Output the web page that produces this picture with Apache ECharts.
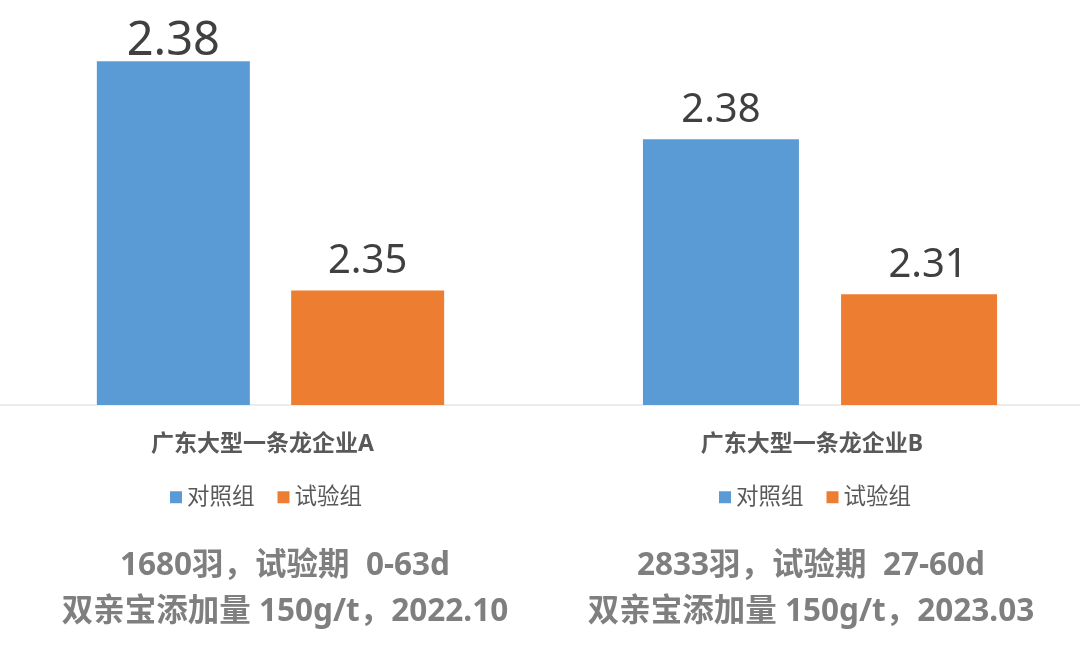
<!DOCTYPE html>
<html>
<head>
<meta charset="utf-8">
<script src="https://cdn.jsdelivr.net/npm/echarts@6/dist/echarts.min.js"></script>
<style>
html,body{margin:0;padding:0;background:#fff;}
#main{width:1080px;height:653px;}
</style>
</head>
<body>
<div id="main"></div>
<script>
var seriesNames = ['对照组', '试验组'];
var categoriesA = ['广东大型一条龙企业A'];
var categoriesB = ['广东大型一条龙企业B'];
var controlA = [2.38];
var trialA = [2.35];
var controlB = [2.38];
var trialB = [2.31];
var notesA = ['1680羽，试验期  0-63d', '双亲宝添加量 150g/t，2022.10'];
var notesB = ['2833羽，试验期  27-60d', '双亲宝添加量 150g/t，2023.03'];

var FONT = "'Noto Sans', 'Noto Sans CJK SC', sans-serif";
var BLUE = '#5B9BD5', ORANGE = '#ED7D31';

var chart = echarts.init(document.getElementById('main'), null, {renderer: 'canvas'});

function valLabel(size, dist, dx) {
  return {show: true, position: 'top', distance: dist, offset: [dx || 0, 0], fontSize: size, color: '#404040', fontFamily: FONT,
    formatter: function (p) { return p.value.toFixed(2); }};
}

function xAxisFor(idx, cats) {
  return {
    type: 'category', gridIndex: idx, data: cats,
    axisLine: {show: true, lineStyle: {color: '#ececec', width: 2}},
    axisTick: {show: false},
    axisLabel: {margin: 28, fontSize: 23, fontWeight: 'bold', color: '#595959', fontFamily: FONT, padding: [0, 16, 0, 0]}
  };
}

var graphics = [
  {type: 'line', shape: {x1: 540, y1: 405, x2: 561, y2: 405}, style: {stroke: '#ececec', lineWidth: 2}}
];
[[notesA, 285], [notesB, 811]].forEach(function (pair) {
  pair[0].forEach(function (line, i) {
    graphics.push({
      type: 'text', x: pair[1], y: 566 + i * 46,
      style: {text: line, textAlign: 'center', textVerticalAlign: 'middle', font: 'bold 31.5px ' + FONT, fill: '#7f7f7f'}
    });
  });
});

var legendText = {fontSize: 22.5, color: '#595959', fontFamily: FONT};

var option = {
  animation: false,
  backgroundColor: '#ffffff',
  grid: [
    {left: 0, width: 541, top: 23, bottom: 248},
    {left: 560, right: 0, top: 95, bottom: 248}
  ],
  xAxis: [xAxisFor(0, categoriesA), xAxisFor(1, categoriesB)],
  yAxis: [
    {type: 'value', gridIndex: 0, min: 2.335, max: 2.385, show: false, splitLine: {show: false}},
    {type: 'value', gridIndex: 1, min: 2.26, max: 2.40, show: false, splitLine: {show: false}}
  ],
  legend: [
    {left: 165, top: 481, itemWidth: 12, itemHeight: 12, itemGap: 23, icon: 'rect', data: seriesNames, textStyle: legendText},
    {left: 714, top: 481, itemWidth: 12, itemHeight: 12, itemGap: 23, icon: 'rect', data: seriesNames, textStyle: legendText}
  ],
  series: [
    {name: seriesNames[0], type: 'bar', xAxisIndex: 0, yAxisIndex: 0, barWidth: 153, barGap: '27%',
      itemStyle: {color: BLUE}, label: valLabel(47, -4), data: controlA},
    {name: seriesNames[1], type: 'bar', xAxisIndex: 0, yAxisIndex: 0, barWidth: 153, barGap: '27%',
      itemStyle: {color: ORANGE}, label: valLabel(40, 9), data: trialA},
    {name: seriesNames[0], type: 'bar', xAxisIndex: 1, yAxisIndex: 1, barWidth: 156, barGap: '27%',
      itemStyle: {color: BLUE}, label: valLabel(40, 9), data: controlB},
    {name: seriesNames[1], type: 'bar', xAxisIndex: 1, yAxisIndex: 1, barWidth: 156, barGap: '27%',
      itemStyle: {color: ORANGE}, label: valLabel(40, 9, 9), data: trialB}
  ],
  graphic: graphics
};
chart.setOption(option);
</script>
</body>
</html>
